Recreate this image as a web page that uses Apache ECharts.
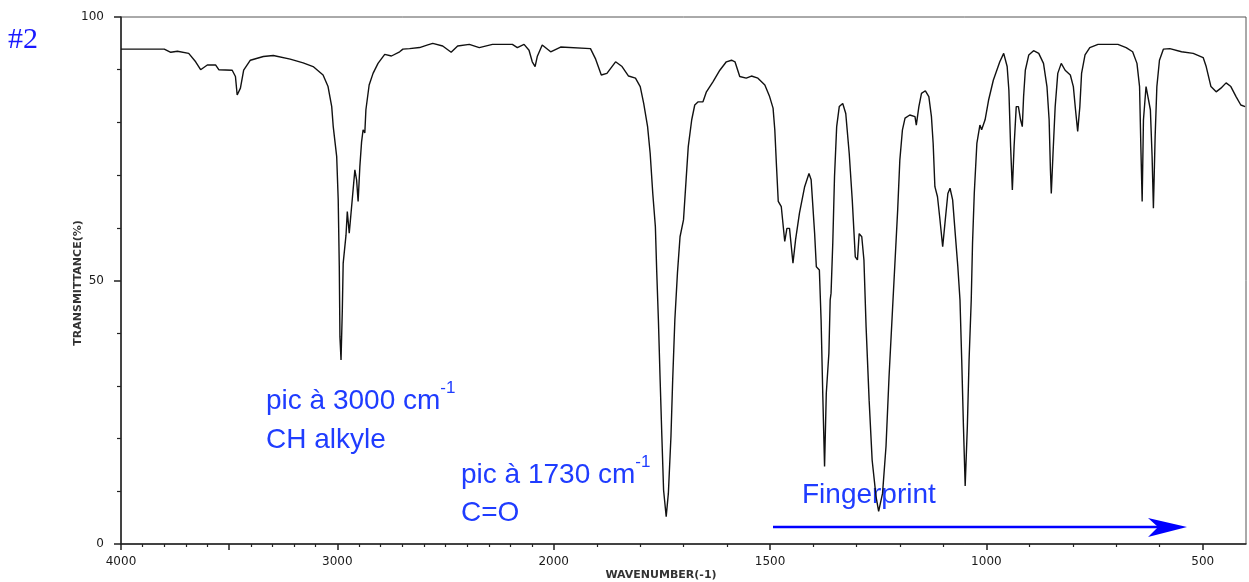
<!DOCTYPE html>
<html>
<head>
<meta charset="utf-8">
<script src="https://cdn.jsdelivr.net/npm/echarts@6/dist/echarts.min.js"></script>
<style>
html,body{margin:0;padding:0;background:#fff;}
#chart{width:1249px;height:582px;}
</style>
</head>
<body>
<div id="chart"></div>
<script>
// ---- Data ----
const wavenumbers = [
 4000,3990,3900,3800,3770,3739,3687,3655,3632,3601,3563,3548,3486,3471,3463,3460,3448,3433,3402,3342,3296,3218,3158,3112,3066,3043,3026,3019,3003,2996,2991,2988,2983,2977,2973,2960,2954,2945,2930,2919,2911,2904,2896,2888,2881,2873,2868,2853,2835,2812,2781,2750,2712,2697,2666,2620,2582,2559,2513,2474,2444,2390,2344,2283,2191,2168,2137,2114,2099,2086,2076,2053,2014,
 1984,1915,1903,1890,1877,1857,1842,1827,1811,1800,1792,1783,1777,1771,1765,1762,1758,1754,1750,1746,1740,1735,1729,1725,1720,1714,1708,1700,1694,1689,1681,1674,1666,1655,1647,1632,1616,1601,1589,1581,1570,1555,1543,1528,1512,1501,1493,1489,1485,1481,1474,1466,1461,1455,1447,1441,1432,1420,1410,1405,1397,1393,1386,1382,1378,1374,1370,1364,1361,1359,1355,1351,1346,1340,1332,1325,1317,1310,1303,1298,1294,1288,1283,1278,1271,1264,1255,1249,1240,1232,1225,1217,1211,1205,1200,1194,1188,1177,1165,1162,1156,1150,1141,1133,1127,1123,1119,1113,1108,1101,1095,1089,1084,1078,1072,1066,1061,1057,1053,1049,1044,1040,1035,1032,1028,1022,1015,1011,1003,995,984,969,960,952,948,944,940,936,931,926,921,917,914,910,902,891,879,868,860,855,852,850,846,841,835,827,818,806,799,794,789,784,780,772,761,742,696,677,662,652,646,643,640,637,631,627,621,617,614,610,606,600,591,576,549,522,499,492,481,469,458,446,435,423,412,402
];
const transmittance = [
 93.9,93.9,93.9,93.9,93.3,93.5,93.1,91.5,90.0,90.9,90.9,90.0,89.9,88.7,85.2,85.0,86.5,89.9,91.8,92.5,92.7,92.0,91.3,90.6,89.0,86.8,83.0,79.2,73.5,65.3,52.6,39.3,34.9,44.4,53.3,58.6,63.1,59.0,65.9,71.0,69.1,65.0,71.6,76.3,78.6,78.0,82.4,87.1,89.3,91.2,92.9,92.6,93.4,93.9,94.0,94.2,94.7,95.0,94.5,93.3,94.5,94.8,94.2,94.8,94.8,94.2,94.8,93.7,91.5,90.6,92.5,94.7,93.4,
 94.3,94.0,92.0,89.0,89.3,91.5,90.6,88.8,88.4,86.8,83.6,79.2,74.1,66.5,60.2,52.0,42.5,31.1,20.4,10.2,5.2,9.6,20.4,31.1,42.5,51.4,58.3,61.5,69.1,75.4,80.5,83.3,83.9,83.9,85.8,87.7,89.9,91.5,91.8,91.5,88.7,88.4,88.8,88.4,87.1,84.9,82.7,78.6,71.6,65.0,64.0,57.4,59.9,59.9,53.3,57.7,62.8,67.8,70.3,69.1,59.0,52.6,52.0,42.5,28.0,14.7,28.6,36.2,46.3,47.6,57.1,69.7,79.2,83.0,83.6,81.7,74.1,65.3,54.5,53.9,58.9,58.3,53.9,41.2,27.3,15.9,9.0,6.2,9.6,18.5,31.7,44.4,53.9,63.4,72.9,78.6,80.8,81.4,81.1,79.5,83.0,85.5,86.0,84.9,81.1,76.0,67.8,65.9,62.1,56.4,61.5,66.5,67.5,65.3,58.9,52.6,46.3,34.9,22.3,11.0,22.3,34.9,46.3,57.1,66.5,76.0,79.5,78.6,80.5,84.2,88.0,91.5,93.1,90.6,86.1,75.4,67.2,75.4,83.0,83.0,80.5,79.2,84.9,89.9,92.8,93.6,93.1,91.2,86.8,80.5,71.0,66.5,74.1,83.0,89.3,91.2,89.9,89.0,86.8,82.4,78.3,83.0,89.3,92.8,94.2,94.8,94.8,94.2,93.4,91.2,86.8,75.4,65.0,80.5,86.8,86.8,82.4,73.5,63.7,77.3,86.8,91.8,93.9,94.0,93.4,93.1,92.3,90.6,86.8,85.8,86.5,87.5,86.8,84.9,83.3,83.0
];
const xTickLabels = [4000, 3000, 2000, 1500, 1000, 500];
const xMediumTicks = [3500];
const xMinorTicks = [3900,3800,3700,3600,3400,3300,3200,3100,2900,2800,2700,2600,2500,2400,2300,2200,2100,
                     1900,1800,1700,1600,1400,1300,1200,1100,900,800,700,600];
const yTickLabels = [0, 50, 100];
const yMinorTicks = [10, 20, 30, 40, 60, 70, 80, 90];

// IR spectrometer axis: scale doubles below 2000 cm-1
function toAxis(w) { return w >= 2000 ? (4000 - w) / 2 : 1000 + (2000 - w); }
function fromAxis(u) { return u <= 1000 ? 4000 - 2 * u : 2000 - (u - 1000); }
const X_MIN = toAxis(4000), X_MAX = toAxis(400);

const axisColor = '#222';
const labelFont = { fontFamily: 'DejaVu Sans', fontSize: 12, color: '#1a1a1a' };
const blue = '#1f3cff';
const gridRect = { left: 121, right: 3, top: 17, bottom: 38 };

const chart = echarts.init(document.getElementById('chart'), null, { renderer: 'canvas' });
chart.setOption({
  animation: false,
  backgroundColor: '#fff',
  grid: [
    Object.assign({ show: true, borderColor: '#555', borderWidth: 1 }, gridRect),
    Object.assign({ show: false }, gridRect)
  ],
  xAxis: [
    {
      type: 'value', gridIndex: 0, min: X_MIN, max: X_MAX, position: 'bottom',
      axisLine: { show: true, onZero: false, lineStyle: { color: axisColor, width: 1.5 } },
      axisTick: { show: true, length: 6, lineStyle: { color: axisColor, width: 1.5 },
        customValues: xTickLabels.concat(xMediumTicks).map(toAxis) },
      axisLabel: Object.assign({ customValues: xTickLabels.map(toAxis), margin: 12,
        formatter: v => String(Math.round(fromAxis(v))) }, labelFont),
      splitLine: { show: false }
    },
    {
      type: 'value', gridIndex: 1, min: X_MIN, max: X_MAX, position: 'bottom',
      axisLine: { show: false },
      axisTick: { show: true, length: 3, lineStyle: { color: axisColor, width: 1.2 },
        customValues: xMinorTicks.map(toAxis) },
      axisLabel: { show: false },
      splitLine: { show: false }
    }
  ],
  yAxis: [
    {
      type: 'value', gridIndex: 0, min: 0, max: 100, position: 'left',
      axisLine: { show: true, onZero: false, lineStyle: { color: axisColor, width: 1.5 } },
      axisTick: { show: true, length: 7, lineStyle: { color: axisColor, width: 1.5 },
        customValues: yTickLabels },
      axisLabel: Object.assign({ customValues: yTickLabels, margin: 17 }, labelFont),
      splitLine: { show: false }
    },
    {
      type: 'value', gridIndex: 1, min: 0, max: 100, position: 'left',
      axisLine: { show: false },
      axisTick: { show: true, length: 4, lineStyle: { color: axisColor, width: 1.2 },
        customValues: yMinorTicks },
      axisLabel: { show: false },
      splitLine: { show: false }
    }
  ],
  series: [{
    type: 'line',
    xAxisIndex: 0, yAxisIndex: 0,
    data: wavenumbers.map((w, i) => [toAxis(w), transmittance[i]]),
    symbol: 'none',
    lineStyle: { color: '#111', width: 1.4 },
    z: 3
  }],
  graphic: [
    { type: 'text', x: 8, y: 40, style: { text: '#2', font: '30px "Liberation Serif"', fill: '#1a1aff', verticalAlign: 'middle' } },
    { type: 'text', x: 78, y: 283, rotation: Math.PI / 2,
      style: { text: 'TRANSMITTANCE(%)', font: 'bold 11px "DejaVu Sans"', fill: '#333', align: 'center', verticalAlign: 'middle' } },
    { type: 'text', x: 661, y: 575,
      style: { text: 'WAVENUMBER(-1)', font: 'bold 11px "DejaVu Sans"', fill: '#333', align: 'center', verticalAlign: 'middle' } },
    { type: 'text', x: 266, y: 401,
      style: { text: 'pic à 3000 cm{s|-1}', fontFamily: 'Liberation Sans', fontSize: 28, lineHeight: 42, fill: blue, verticalAlign: 'middle',
        rich: { s: { fontFamily: 'Liberation Sans', fontSize: 17, lineHeight: 22, verticalAlign: 'top', fill: blue } } } },
    { type: 'text', x: 266, y: 440,
      style: { text: 'CH alkyle', fontFamily: 'Liberation Sans', fontSize: 28, fill: blue, verticalAlign: 'middle' } },
    { type: 'text', x: 461, y: 475,
      style: { text: 'pic à 1730 cm{s|-1}', fontFamily: 'Liberation Sans', fontSize: 28, lineHeight: 42, fill: blue, verticalAlign: 'middle',
        rich: { s: { fontFamily: 'Liberation Sans', fontSize: 17, lineHeight: 22, verticalAlign: 'top', fill: blue } } } },
    { type: 'text', x: 461, y: 513,
      style: { text: 'C=O', fontFamily: 'Liberation Sans', fontSize: 28, fill: blue, verticalAlign: 'middle' } },
    { type: 'text', x: 802, y: 495,
      style: { text: 'Fingerprint', fontFamily: 'Liberation Sans', fontSize: 28, fill: blue, verticalAlign: 'middle' } },
    { type: 'line', shape: { x1: 773, y1: 527, x2: 1160, y2: 527 }, style: { stroke: '#0000ff', lineWidth: 2.5 } },
    { type: 'polygon', shape: { points: [[1187, 527], [1148, 518], [1158, 527], [1148, 537]] }, style: { fill: '#0000ff' } }
  ]
});
</script>
</body>
</html>
